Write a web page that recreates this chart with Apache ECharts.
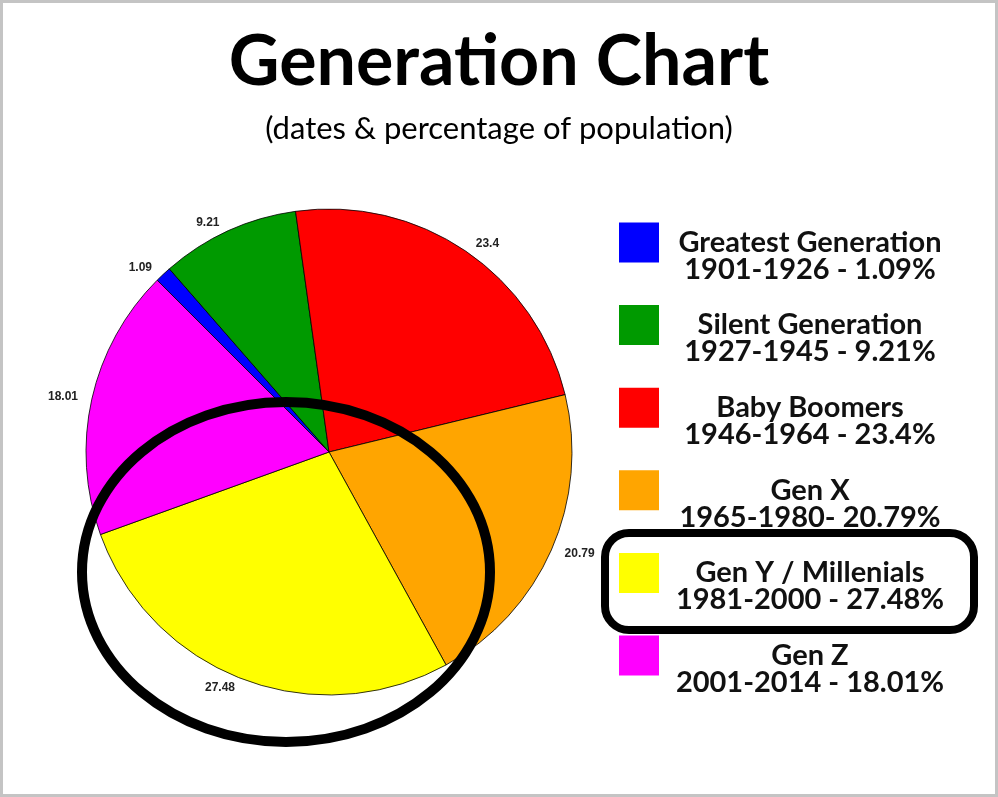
<!DOCTYPE html>
<html>
<head>
<meta charset="utf-8">
<script src="https://cdn.jsdelivr.net/npm/echarts@6/dist/echarts.min.js"></script>
<style>
html,body{margin:0;padding:0;background:#fff;}
#main{width:998px;height:797px;}
</style>
</head>
<body>
<div id="main"></div>
<script>
const categories = ['Greatest Generation', 'Silent Generation', 'Baby Boomers', 'Gen X', 'Gen Y / Millenials', 'Gen Z'];
const legendSecondLines = ['1901-1926 - 1.09%', '1927-1945 - 9.21%', '1946-1964 - 23.4%', '1965-1980- 20.79%', '1981-2000 - 27.48%', '2001-2014 - 18.01%'];
const values = [1.09, 9.21, 23.4, 20.79, 27.48, 18.01];
const colors = ['#0000ff', '#009a00', '#ff0000', '#ffa500', '#ffff00', '#ff00ff'];

const chart = echarts.init(document.getElementById('main'));
const FONT = 'Lato';

const option = {
  backgroundColor: '#ffffff',
  animation: false,
  title: {
    text: 'Generation Chart',
    subtext: '(dates & percentage of population)',
    left: 'center',
    top: 22,
    itemGap: 16,
    textStyle: { fontFamily: FONT, fontSize: 70, fontWeight: 'bold', color: '#000' },
    subtextStyle: { fontFamily: FONT, fontSize: 31, fontWeight: 'normal', color: '#000' }
  },
  legend: {
    orient: 'vertical',
    left: 619,
    top: 201,
    padding: 0,
    itemWidth: 40,
    itemHeight: 40,
    itemGap: -0.4,
    icon: 'rect',
    selectedMode: false,
    itemStyle: { borderWidth: 0 },
    data: categories,
    formatter: function (name) {
      const i = categories.indexOf(name);
      return '{n| }\n{n|' + name + '}\n{n|' + legendSecondLines[i] + '}';
    },
    textStyle: {
      rich: {
        n: { width: 292, align: 'center', fontFamily: FONT, fontSize: 29, fontWeight: 'bold', color: '#111', lineHeight: 27 }
      }
    }
  },
  series: [{
    type: 'pie',
    center: [329, 452],
    radius: [0, 243],
    startAngle: 135,
    clockwise: true,
    avoidLabelOverlap: false,
    data: categories.map((c, i) => ({ name: c, value: values[i], itemStyle: { color: colors[i] } })),
    itemStyle: { borderColor: '#000', borderWidth: 0.8 },
    label: {
      show: true,
      position: 'outside',
      formatter: '{c}',
      fontFamily: 'Liberation Sans, Arial',
      fontSize: 12,
      fontWeight: 'bold',
      color: '#222'
    },
    labelLine: { show: false, length: 9, length2: 0 },
    emphasis: { disabled: true }
  }],
  graphic: [
    { type: 'rect', z: 100, shape: { x: 1.5, y: 1.5, width: 995, height: 794 }, style: { fill: null, stroke: '#c4c4c4', lineWidth: 3 } },
    { type: 'ellipse', z: 100, shape: { cx: 286, cy: 572, rx: 204, ry: 170 }, style: { fill: null, stroke: '#000', lineWidth: 10 } },
    { type: 'rect', z: 100, shape: { x: 605, y: 533, width: 369, height: 97, r: 24 }, style: { fill: null, stroke: '#000', lineWidth: 8 } }
  ]
};
chart.setOption(option);
</script>
</body>
</html>
